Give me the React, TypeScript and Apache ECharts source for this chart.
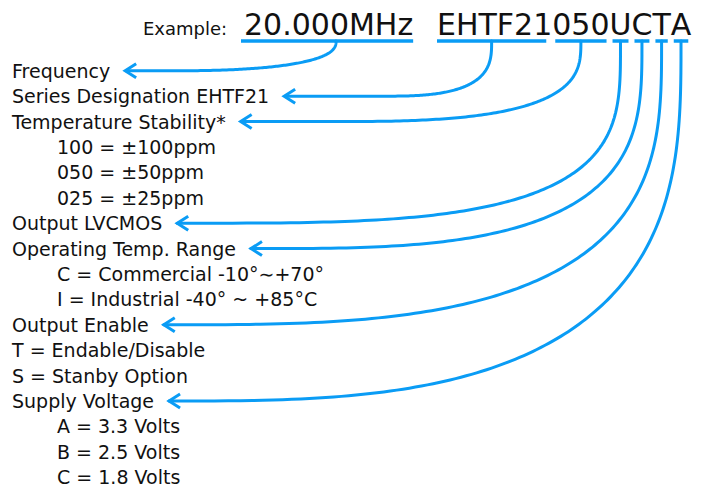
import React, { useEffect, useRef } from "react";
import * as echarts from "echarts";

// ---- content ----
const exampleLabel = "Example:";
const frequencyCode = "20.000MHz";
const codeParts = ["EHTF21", "050", "U", "C", "T", "A"];
const labelLines = [
  "Frequency",
  "Series Designation EHTF21",
  "Temperature Stability*",
  "100 = ±100ppm",
  "050 = ±50ppm",
  "025 = ±25ppm",
  "Output LVCMOS",
  "Operating Temp. Range",
  "C = Commercial -10°∼+70°",
  "I = Industrial -40° ~ +85°C",
  "Output Enable",
  "T = Endable/Disable",
  "S = Stanby Option",
  "Supply Voltage",
  "A = 3.3 Volts",
  "B = 2.5 Volts",
  "C = 1.8 Volts",
];
const indentedLines = [false, false, false, true, true, true, false, false, true, true, false, false, false, false, true, true, true];
// label line each code segment points to: [frequency, ...codeParts]
const arrowTargets = [0, 1, 2, 6, 7, 10, 13];

// ---- layout / style ----
const FONT = '"DejaVu Sans", "Noto Sans", sans-serif';
const TEXT_COLOR = "#111111";
const BLUE = "#0a9cf5";
const LABEL_SIZE = 19;
const HEADER_SIZE = 30;
const LEFT_X = 12;
const INDENT_X = 57;
const FIRST_ROW_Y = 70.8;
const ROW_STEP = 25.4;
const UNDERLINE_Y = 41;
// arrow curve: [superellipse exponent, fraction of horizontal run covered by the curve]
const curveShapes = [
  [2.5, 0.8],
  [3, 0.54],
  [3, 0.75],
  [3.5, 1],
  [3.2, 1],
  [3.1, 1],
  [3, 1],
];

export default function App() {
  const ref = useRef<HTMLDivElement>(null);
  useEffect(() => {
    const el = ref.current!;
    const chart = echarts.init(el, null, { renderer: "svg" });
    const canvas = document.createElement("canvas");
    const ctx = canvas.getContext("2d")!;
    const measure = (t: string, size: number) => {
      ctx.font = `${size}px ${FONT}`;
      return ctx.measureText(t).width;
    };
    const text = (t: string, x: number, y: number, size: number) => ({
      type: "text",
      x,
      y,
      silent: true,
      style: {
        text: t,
        fontSize: size,
        fontFamily: FONT,
        fill: TEXT_COLOR,
        textAlign: "left",
        align: "left",
        textVerticalAlign: "middle",
        verticalAlign: "middle",
      },
    });
    const els: any[] = [];
    // header
    els.push(text(exampleLabel, 143, 28, 18));
    const segs: { x0: number; x1: number }[] = [];
    const fx = 244;
    const fw = measure(frequencyCode, HEADER_SIZE);
    els.push(text(frequencyCode, fx, 24, HEADER_SIZE));
    segs.push({ x0: fx - 3, x1: fx + fw });
    let cx = 437;
    codeParts.forEach((p, i) => {
      const w = measure(p, HEADER_SIZE);
      els.push(text(p, cx, 24, HEADER_SIZE));
      segs.push({ x0: cx + (i === 0 ? 0 : 3), x1: cx + w - (i === 0 ? 6 : 3) });
      cx += w;
    });
    segs.forEach((s) => {
      els.push({
        type: "rect",
        silent: true,
        shape: { x: s.x0, y: UNDERLINE_Y - 1.75, width: s.x1 - s.x0, height: 3.5 },
        style: { fill: BLUE },
      });
    });
    // labels
    const rowY = (i: number) => FIRST_ROW_Y + i * ROW_STEP;
    labelLines.forEach((l, i) => {
      els.push(text(l, indentedLines[i] ? INDENT_X : LEFT_X, rowY(i), LABEL_SIZE));
    });
    // arrows
    const lineStyle = { stroke: BLUE, lineWidth: 3, fill: "none", lineCap: "round", lineJoin: "round" };
    arrowTargets.forEach((li, k) => {
      const s = segs[k];
      const sx = (s.x0 + s.x1) / 2 + (k === 0 ? 9 : 0);
      const sy = UNDERLINE_Y;
      const lx = indentedLines[li] ? INDENT_X : LEFT_X;
      const tx = lx + measure(labelLines[li], LABEL_SIZE) + 15;
      const ty = rowY(li);
      const [n, f] = curveShapes[k];
      const ex = sx - f * (sx - tx);
      const a = sx - ex;
      const b = ty - sy;
      const pts: number[][] = [];
      const N = 120;
      for (let j = 0; j <= N; j++) {
        const th = (j / N) * (Math.PI / 2);
        const c = Math.pow(Math.cos(th), 2 / n);
        const sn = Math.pow(Math.sin(th), 2 / n);
        pts.push([ex + a * c, sy + b * sn]);
      }
      if (ex > tx) pts.push([tx + 1, ty]);
      els.push({ type: "polyline", silent: true, shape: { points: pts }, style: lineStyle });
      els.push({
        type: "polyline",
        silent: true,
        shape: { points: [[tx + 11, ty - 7], [tx, ty], [tx + 11, ty + 7]] },
        style: { stroke: BLUE, lineWidth: 3, fill: "none", lineJoin: "miter" },
      });
    });
    chart.setOption({ animation: false, backgroundColor: "#ffffff", graphic: { elements: els } });
    return () => chart.dispose();
  }, []);
  return <div ref={ref} style={{ position: "fixed", left: 0, top: 0, width: 707, height: 490 }} />;
}
